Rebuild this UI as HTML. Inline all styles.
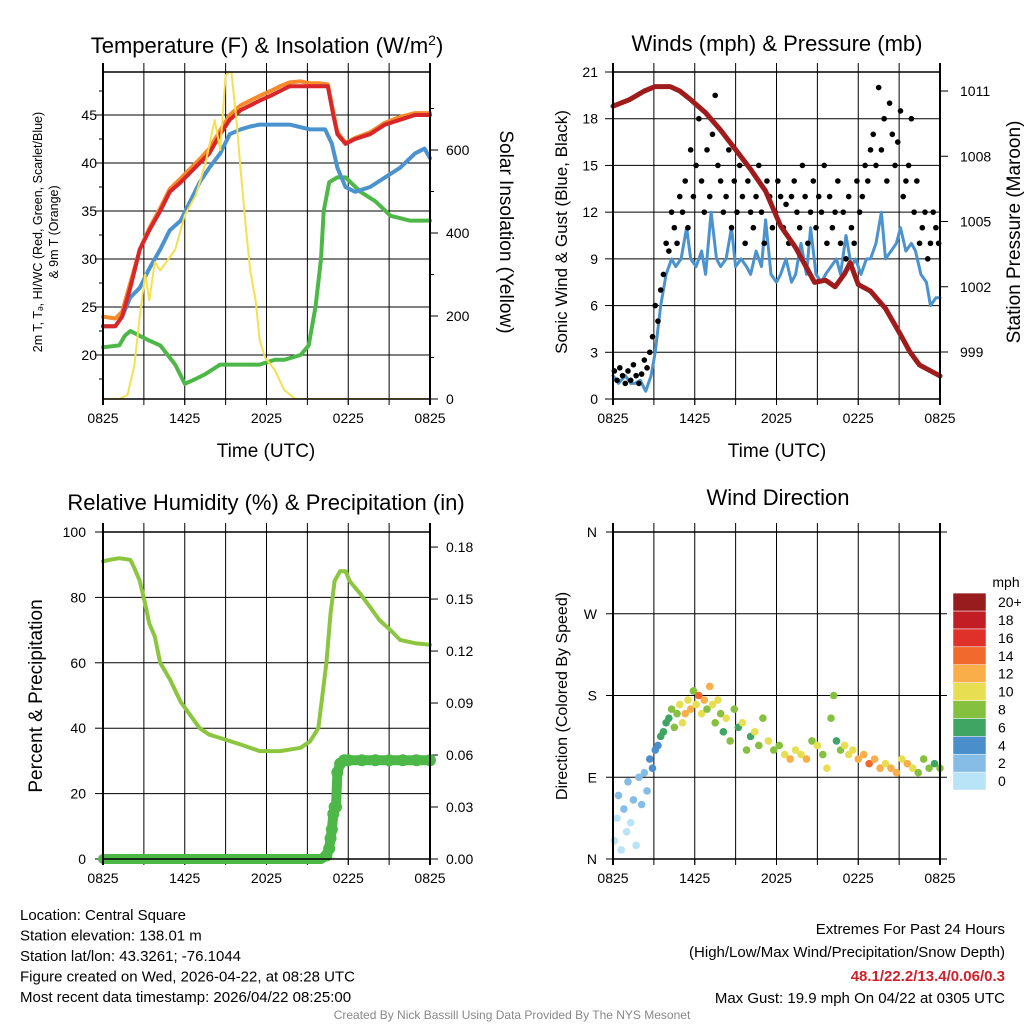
<!DOCTYPE html>
<html><head><meta charset="utf-8"><style>
html,body{margin:0;padding:0;background:#fff}
svg{display:block;font-family:"Liberation Sans",sans-serif}
</style></head><body>
<svg id="c" width="1024" height="1024" viewBox="0 0 1024 1024"></svg>
<script>
// ---- Panel 1 data (hours since 0825 UTC) ----
const tT=[0,0.9,1.4,2.0,2.7,3.4,4.2,4.9,5.7,6.4,7.1,7.8,8.6,9.3,10.1,10.8,11.5,12.3,13.0,13.7,14.5,15.2,15.9,16.5,16.9,17.2,17.8,18.5,19.6,20.7,21.8,22.9,24];
const tempV=[23,23,24,27,31,33,35,37,38,39,40,41,43,44.5,45.5,46,46.5,47,47.5,48,48,48,48,48,45,43,42,42.5,43,44,44.5,45,45];
const t9mV=[24,23.8,24.5,27.5,31,33.2,35.3,37.3,38.4,39.4,40.4,41.5,43.4,45,46,46.5,47,47.5,48,48.4,48.5,48.3,48.3,48.2,45.3,43.2,42.1,42.6,43.2,44.2,44.8,45.2,45.2];
const wcT=[0,0.9,1.4,2.0,2.7,3.4,4.2,4.9,5.7,6.4,7.1,7.8,8.6,9.3,10.1,10.8,11.5,12.3,13.7,15.2,16.3,16.8,17.2,17.8,18.5,19.6,20.7,21.8,22.9,23.6,24];
const wcV=[23,23,24,26,27,29,31,33,34,36,38,39.5,41,43,43.5,43.8,44,44,44,43.5,43.5,42,39.5,37.5,37,37.5,38.5,39.5,41,41.5,40.5];
const tdT=[0,1.2,1.6,2.0,2.7,3.4,4.2,5.3,6.0,6.8,7.5,8.6,10.1,11.5,12.6,13.3,14.5,15.1,15.6,16.0,16.2,16.6,17.2,17.8,18.9,20.0,21.1,22.5,24];
const tdV=[20.8,21,22,22.5,22,21.5,21,19,17,17.5,18,19,19,19,19.5,19.5,20,21,25,30,35,38,38.5,38.5,37,36,34.5,34,34];
const solT=[0,1.2,1.8,2.3,2.7,3.1,3.4,3.8,4.2,5.3,6.0,6.8,7.5,8.2,8.6,9.0,9.4,9.8,10.1,10.5,10.8,11.2,11.5,11.9,12.6,13.3,14.1,24];
const solV=[0,0,10,80,200,300,238,330,310,360,443,490,565,672,600,780,793,672,552,407,310,238,142,100,70,22,0,0];
// ---- Panel 2 data ----
const presT=[0,1.2,2.3,3.1,4.2,4.9,5.7,6.8,7.9,9.0,10.1,11.2,12.3,13.4,14.1,14.8,15.6,16.3,17.0,17.4,18.0,18.9,20.0,21.1,21.8,22.5,24];
const presV=[1010.3,1010.6,1011,1011.2,1011.2,1011,1010.6,1010,1009.2,1008.3,1007.4,1006.4,1004.8,1003.8,1003,1002.2,1002.3,1002,1002.6,1003.1,1002.1,1001.8,1001,999.8,999,998.4,997.9];
const windT=[0,0.4,0.9,1.3,1.6,2.0,2.4,2.8,3.1,3.5,3.9,4.3,4.6,5.0,5.4,5.7,6.1,6.5,6.8,7.2,7.6,7.9,8.3,8.7,9.0,9.4,9.8,10.1,10.5,10.9,11.2,11.6,12.0,12.3,12.7,13.1,13.4,13.8,14.2,14.5,14.9,15.3,15.6,16.0,16.4,16.7,17.1,17.5,17.8,18.2,18.6,18.9,19.3,19.7,20.0,20.4,20.8,21.1,21.5,21.9,22.2,22.6,23.0,23.3,23.7,24];
const windV=[1.5,1,1.5,1,1,1.2,0.5,1.5,3,6,8,9,8.5,9,11,9,8.5,9.5,8,12,9,8.5,9,11,8.5,9,8.5,8,9.5,8.5,11.5,8,7.5,8,9,7.5,8,10,8,11,8,7.5,8,8.5,9,8,10.5,8.5,9,8,9,9,10,12,9,9.5,10,11,9.5,10,9.5,8,7.5,6,6.5,6.5];
const gustT=[0.1,0.3,0.5,0.7,0.9,1.1,1.3,1.5,1.7,1.9,2.1,2.3,2.5,2.7,2.9,3.1,3.3,3.5,3.7,3.9,4.1,4.3,4.5,4.7,4.9,5.1,5.3,5.5,5.7,5.9,6.1,6.3,6.5,6.7,6.9,7.1,7.3,7.5,7.7,7.9,8.1,8.3,8.5,8.7,8.9,9.1,9.3,9.5,9.7,9.9,10.1,10.3,10.5,10.7,10.9,11.1,11.3,11.5,11.7,11.9,12.1,12.3,12.5,12.7,12.9,13.1,13.3,13.5,13.7,13.9,14.1,14.3,14.5,14.7,14.9,15.1,15.3,15.5,15.7,15.9,16.1,16.3,16.5,16.7,16.9,17.1,17.3,17.5,17.7,17.9,18.1,18.3,18.5,18.7,18.9,19.1,19.3,19.5,19.7,19.9,20.1,20.3,20.5,20.7,20.9,21.1,21.3,21.5,21.7,21.9,22.1,22.3,22.5,22.7,22.9,23.1,23.3,23.5,23.7,23.9];
const gustV=[1.8,1.2,2,1.5,1,1.8,1.2,2.2,1.5,1,1.6,2.5,2,3,4,6,5,7,8,10,9.5,12,11,10,13,12,14,11,16,13,15,18,14,12,16,13,17,19.5,15,14,12,13,16,11,14,12,15,13,10,14,12,11,13,15,12,10,14,13,11,12,14,13,11,12.5,10,13,14,12,11,15,13,10,12,14,11,13,12,15,10,13,11,12,14,10,12,9,13,11,10,14,12,13,15,14,16,17,15,20,16,18,14,19,17,15,16.5,18.5,13,14,15,18,12,14,10,11,12,9,10,12,11,10];
// ---- Panel 3 data ----
const rhT=[0,0.5,1.2,2.0,2.3,2.7,3.1,3.4,3.8,4.2,4.9,5.7,6.4,7.1,7.8,8.6,10.1,11.5,13.0,14.5,15.2,15.8,16.1,16.4,16.7,17.0,17.4,17.8,18.1,18.9,19.6,20.3,21.1,21.8,22.9,24];
const rhV=[91,91.5,92,91.5,89,85,78,72,68,60,55,48,44,40,38,37,35,33,33,34,36,40,50,60,75,85,88,88,85,81,77,73,70,67,66,65.5];
const prT=[0,1,2,3,4,5,6,7,8,9,10,11,12,13,14,15,16,16.4,16.6,16.7,16.8,16.9,17.0,17.1,17.2,17.4,17.7,18,19,20,21,22,23,24];
const prV=[0,0,0,0,0,0,0,0,0,0,0,0,0,0,0,0,0,0.002,0.006,0.012,0.017,0.026,0.03,0.03,0.05,0.055,0.057,0.057,0.057,0.057,0.057,0.057,0.057,0.057];
// ---- Panel 4 data ----
const dirT=[0.1,0.3,0.4,0.6,0.8,1.0,1.1,1.3,1.5,1.7,1.9,2.1,2.3,2.5,2.7,2.9,3.1,3.3,3.5,3.7,3.9,4.1,4.3,4.5,4.7,4.9,5.1,5.3,5.5,5.7,5.9,6.1,6.3,6.5,6.7,6.9,7.1,7.3,7.5,7.7,7.9,8.1,8.3,8.6,8.9,9.2,9.5,9.8,10.1,10.4,10.7,11.0,11.4,11.8,12.2,12.6,13.0,13.4,13.8,14.2,14.6,15.0,15.4,15.7,16.0,16.2,16.4,16.7,17.0,17.3,17.6,18.0,18.4,18.8,19.2,19.6,20.0,20.4,20.8,21.2,21.6,22.0,22.4,22.8,23.2,23.6,24];
const dirV=[20,45,70,10,55,30,85,40,65,15,90,60,95,75,110,100,120,125,135,140,150,155,165,145,160,170,150,160,175,165,185,170,180,160,175,165,190,170,150,175,160,140,155,130,165,145,150,120,135,140,125,155,130,120,125,115,110,120,115,110,130,125,115,100,155,180,130,120,125,115,120,110,115,105,110,100,105,100,95,110,105,100,95,110,100,105,100];
const dirS=[0,0,1,0,1,0,1,0,1,0,1,2,2,2,3,3,4,4,5,5,6,6,7,8,7,9,10,11,9,12,8,10,13,9,11,8,12,10,7,9,8,6,9,7,8,6,9,8,6,10,7,8,9,7,8,10,11,9,10,12,8,9,7,10,8,7,6,8,9,10,9,11,12,13,11,12,10,11,12,10,11,9,8,7,7,6,7];
const tickLabs=["0825","1425","2025","0225","0825"];

const svg=document.getElementById('c');
const NS='http://www.w3.org/2000/svg';
function mk(tag,attrs,name,parent){
  const el=document.createElementNS(NS,tag);
  for(const k in attrs) el.setAttribute(k,attrs[k]);
  
  
  (parent||svg).appendChild(el);
  return el;
}
function txt(x,y,s,size,name,opt){
  opt=opt||{};
  const a={x:x,y:y,'font-size':size,'text-anchor':opt.anchor||'middle',fill:opt.fill||'#000'};
  if(opt.rot!==undefined) a.transform='rotate('+opt.rot+' '+x+' '+y+')';
  if(opt.weight) a['font-weight']=opt.weight;
  const el=mk('text',a,name);
  el.textContent=s;
  return el;
}
function poly(xs,ys,color,w,name,clip){
  let d='';
  for(let i=0;i<xs.length;i++) d+=(i?'L':'M')+xs[i].toFixed(1)+' '+ys[i].toFixed(1);
  const a={d:d,fill:'none',stroke:color,'stroke-width':w,'stroke-linejoin':'round','stroke-linecap':'round'};
  if(clip) a['clip-path']='url(#'+clip+')';
  mk('path',a,name);
}
const defs=mk('defs',{},'defs');
function clipRect(id,x0,y0,x1,y1){const cp=mk('clipPath',{id:id},'clip',defs);mk('rect',{x:x0,y:y0,width:x1-x0,height:y1-y0},'clip-rect',cp);}
function frame(x0,y0,x1,y1,p){
  for(let h=3;h<24;h+=3){const x=x0+h*(x1-x0)/24;mk('line',{x1:x,y1:y0-9,x2:x,y2:y1+6,stroke:'#000','stroke-width':1},p+'-vgrid');}
  for(let i=0;i<5;i++){const x=x0+i*6*(x1-x0)/24;mk('line',{x1:x,y1:y1,x2:x,y2:y1+6,stroke:'#000','stroke-width':1},p+'-xtick');
    txt(x,y1+24,tickLabs[i],14,p+'-x-tick-label');}
}
function box(x0,y0,x1,y1,p){
  mk('line',{x1:x0,y1:y0-9,x2:x0,y2:y1+6,stroke:'#000','stroke-width':2},p+'-left-axis');
  mk('line',{x1:x1,y1:y0-9,x2:x1,y2:y1+6,stroke:'#000','stroke-width':2},p+'-right-axis');
  mk('line',{x1:x0,y1:y1,x2:x1,y2:y1,stroke:'#000','stroke-width':1.5},p+'-bottom-axis');
  mk('line',{x1:x0,y1:y0,x2:x1,y2:y0,stroke:'#000','stroke-width':1.5},p+'-top-axis');
}
function hgrid(x0,x1,y,p){mk('line',{x1:x0,y1:y,x2:x1,y2:y,stroke:'#000','stroke-width':1},p+'-hgrid');}
function ltick(x,y,len,p){mk('line',{x1:x,y1:y,x2:x-len,y2:y,stroke:'#000','stroke-width':1},p+'-ytick');}
function rtick(x,y,len,p){mk('line',{x1:x,y1:y,x2:x+len,y2:y,stroke:'#000','stroke-width':1},p+'-y2tick');}

// ===== Panel 1 =====
const p1x=t=>103+t*13.625, p1y=v=>355-(v-20)*9.6, p1s=v=>399-v*0.415;
clipRect('cp1',103,72,430,399);
frame(103,72,430,399,'p1');
for(let v=20;v<=45;v+=5){hgrid(103,430,p1y(v),'p1');ltick(103,p1y(v),8,'p1');txt(97,p1y(v)+5,String(v),14,'p1-y-tick-label',{anchor:'end'});}
for(let v=17.5;v<=48;v+=5){ltick(103,p1y(v),4,'p1');}
for(let v=0;v<=600;v+=200){rtick(430,p1s(v),8,'p1');txt(446,p1s(v)+5,String(v),14,'p1-y2-tick-label',{anchor:'start'});}
for(let v=100;v<=700;v+=200){rtick(430,p1s(v),4,'p1');}
poly(tdT.map(p1x),tdV.map(p1y),'#4db848',4,'dewpoint-line');
poly(tT.map(p1x),t9mV.map(p1y),'#f58b2a',4,'temp-9m-line');
poly(wcT.map(p1x),wcV.map(p1y),'#4a93cf',4,'windchill-line');
poly(tT.map(p1x),tempV.map(p1y),'#d8262a',4,'temp-2m-line');
poly(solT.map(p1x),solV.map(p1s),'#f5e050',2,'solar-line','cp1');
box(103,72,430,399,'p1');
{const el=txt(267,53,'Temperature (F) & Insolation (W/m',22,'p1-title');const s=document.createElementNS(NS,'tspan');s.setAttribute('baseline-shift','super');s.setAttribute('font-size','14');s.textContent='2';el.appendChild(s);const s2=document.createElementNS(NS,'tspan');s2.textContent=')';el.appendChild(s2);}
txt(266,457,'Time (UTC)',19,'p1-x-axis-title');
txt(42,232,'2m T, T\u2094, HI/WC (Red, Green, Scarlet/Blue)',12.5,'p1-y-axis-title',{rot:-90});
txt(58,232,'& 9m T (Orange)',12.5,'p1-y-axis-title-line2',{rot:-90});
txt(500,232,'Solar Insolation (Yellow)',19,'p1-y2-axis-title',{rot:90});

// ===== Panel 2 =====
const p2x=t=>613+t*13.625, p2y=v=>399-v*15.571, p2p=v=>352-(v-999)*21.75;
frame(613,72,940,399,'p2');
for(let v=0;v<=21;v+=3){hgrid(613,940,p2y(v),'p2');ltick(613,p2y(v),8,'p2');txt(598,p2y(v)+5,String(v),14,'p2-y-tick-label',{anchor:'end'});}
for(let v=999;v<=1011;v+=3){rtick(940,p2p(v),8,'p2');txt(960,p2p(v)+5,String(v),14,'p2-y2-tick-label',{anchor:'start'});}
poly(windT.map(p2x),windV.map(p2y),'#4a93cf',3,'sonic-wind-line');
for(let i=0;i<gustT.length;i++){mk('circle',{cx:p2x(gustT[i]),cy:p2y(gustV[i]),r:2.8,fill:'#000'},'gust-point');}
poly(presT.map(p2x),presV.map(p2p),'#a01c1c',5,'pressure-line');
box(613,72,940,399,'p2');
txt(777,51,'Winds (mph) & Pressure (mb)',22,'p2-title');
txt(777,457,'Time (UTC)',19,'p2-x-axis-title');
txt(567,232,'Sonic Wind & Gust (Blue, Black)',17,'p2-y-axis-title',{rot:-90});
txt(1020,232,'Station Pressure (Maroon)',19,'p2-y2-axis-title',{rot:-90});

// ===== Panel 3 =====
const p3x=t=>103+t*13.625, p3y=v=>859-v*3.27, p3p=v=>859-v*1733;
frame(103,532,430,859,'p3');
for(let v=0;v<=100;v+=20){hgrid(103,430,p3y(v),'p3');ltick(103,p3y(v),8,'p3');txt(86,p3y(v)+5,String(v),14,'p3-y-tick-label',{anchor:'end'});}
const prTicks=["0.00","0.03","0.06","0.09","0.12","0.15","0.18"];
for(let i=0;i<prTicks.length;i++){const y=p3p(i*0.03);rtick(430,y,8,'p3');txt(446,y+5,prTicks[i],14,'p3-y2-tick-label',{anchor:'start'});}
poly(rhT.map(p3x),rhV.map(p3y),'#8cc63f',4,'rh-line');
poly(prT.map(p3x),prV.map(p3p),'#4db848',10,'precip-line');
for(let i=0;i<prT.length;i++){if(prV[i]>0) mk('circle',{cx:p3x(prT[i]),cy:p3p(prV[i]),r:6,fill:'#4db848'},'precip-point');}
box(103,532,430,859,'p3');
txt(266,510,'Relative Humidity (%) & Precipitation (in)',22,'p3-title');
txt(42,696,'Percent & Precipitation',19,'p3-y-axis-title',{rot:-90});

// ===== Panel 4 =====
const p4x=t=>613+t*13.625, p4y=v=>859-v*0.9083;
const spdColors=['#b9e3f6','#85bde6','#4a8ecb','#3fa563','#86c03f','#e8de52','#f9ae4a','#f1692d','#df302a','#c21d25','#981b1e'];
frame(613,532,940,859,'p4');
const dirLabs=['N','E','S','W','N'];
for(let i=0;i<5;i++){const y=p4y(i*90);hgrid(606,947,y,'p4');txt(597,y+5,dirLabs[i],14,'p4-y-tick-label',{anchor:'end'});}
for(let i=0;i<dirT.length;i++){const c=spdColors[Math.min(10,Math.floor(dirS[i]/2+0.5))];
  mk('circle',{cx:p4x(dirT[i]),cy:p4y(dirV[i]),r:3.8,fill:c},'wind-dir-point');}
box(613,532,940,859,'p4');
txt(778,505,'Wind Direction',22,'p4-title');
txt(567,696,'Direction (Colored By Speed)',16,'p4-y-axis-title',{rot:-90});
txt(1006,587,'mph',14,'colorbar-title');
const cbLabs=['0','2','4','6','8','10','12','14','16','18','20+'];
for(let i=0;i<11;i++){const y=790-(i+1)*17.9;
  mk('rect',{x:953,y:y,width:33,height:17.9,fill:spdColors[i],stroke:'#fff','stroke-width':0.5},'colorbar-swatch');
  txt(998,y+14,cbLabs[i],14,'colorbar-label',{anchor:'start'});}

// ===== Footer =====
const info=['Location: Central Square','Station elevation: 138.01 m','Station lat/lon: 43.3261; -76.1044','Figure created on Wed, 2026-04-22, at 08:28 UTC','Most recent data timestamp: 2026/04/22 08:25:00'];
for(let i=0;i<info.length;i++) txt(20,920+i*20.5,info[i],15,'station-info-line',{anchor:'start'});
txt(1005,934,'Extremes For Past 24 Hours',15,'extremes-title',{anchor:'end'});
txt(1005,957,'(High/Low/Max Wind/Precipitation/Snow Depth)',15,'extremes-legend',{anchor:'end'});
txt(1005,981,'48.1/22.2/13.4/0.06/0.3',15,'extremes-values',{anchor:'end',fill:'#d0202a',weight:'bold'});
txt(1005,1003,'Max Gust: 19.9 mph On 04/22 at 0305 UTC',15,'max-gust',{anchor:'end'});
txt(512,1019,'Created By Nick Bassill Using Data Provided By The NYS Mesonet',12,'credit',{fill:'#888'});
</script>
</body></html>
